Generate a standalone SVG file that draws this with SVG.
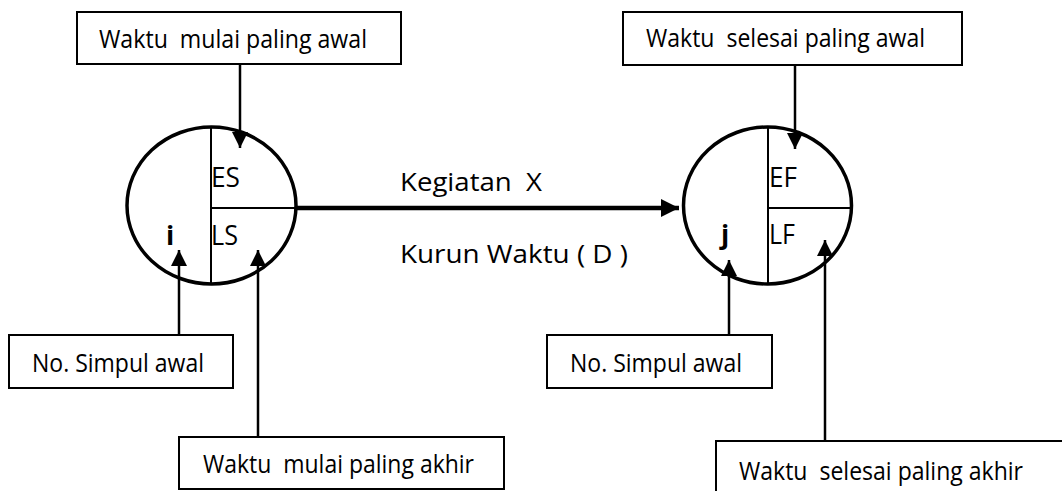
<svg xmlns="http://www.w3.org/2000/svg" width="1062" height="491" viewBox="0 0 1062 491">
  <defs>
    <marker id="head" viewBox="0 0 10 10" refX="10" refY="5" markerWidth="16" markerHeight="16" markerUnits="userSpaceOnUse" orient="auto">
      <path d="M0,0 L10,5 L0,10 Z" fill="#000"/>
    </marker>
    <marker id="headBig" viewBox="0 0 10 10" refX="10" refY="5" markerWidth="18" markerHeight="18" markerUnits="userSpaceOnUse" orient="auto">
      <path d="M0,0 L10,5 L0,10 Z" fill="#000"/>
    </marker>
  </defs>
  <style>
    .box { fill: #fff; stroke: #000; stroke-width: 2; }
    .lbl { font-family: "Open Sans", "Liberation Sans", sans-serif; font-size: 25px; fill: #000; }
    .cell { font-family: "Open Sans", "Liberation Sans", sans-serif; font-size: 27px; fill: #000; }
    .num { font-family: "Open Sans", "Liberation Sans", sans-serif; font-size: 27px; font-weight: bold; fill: #000; }
    .node { fill: #fff; stroke: #000; stroke-width: 3.5; }
    .div { stroke: #000; stroke-width: 2; fill: none; }
    .conn { stroke: #000; stroke-width: 2.5; fill: none; marker-end: url(#head); }
    .flow { stroke: #000; stroke-width: 4.5; fill: none; marker-end: url(#headBig); }
  </style>

  <rect width="1062" height="491" fill="#fff"/>

  <!-- event node i -->
  <g id="node-i">
    <ellipse class="node" cx="211.5" cy="205.5" rx="84.5" ry="78.5"/>
    <line class="div" x1="211" y1="127" x2="211" y2="284"/>
    <line class="div" x1="211" y1="208" x2="296" y2="208"/>
    <text class="cell" x="211" y="187" textLength="29" lengthAdjust="spacingAndGlyphs">ES</text>
    <text class="cell" x="211" y="245" textLength="27" lengthAdjust="spacingAndGlyphs">LS</text>
    <text class="num" x="166" y="245">i</text>
  </g>

  <!-- event node j -->
  <g id="node-j">
    <ellipse class="node" cx="767.5" cy="205.5" rx="84" ry="78.5"/>
    <line class="div" x1="768" y1="127" x2="768" y2="284"/>
    <line class="div" x1="768" y1="208" x2="852" y2="208"/>
    <text class="cell" x="769" y="187" textLength="28" lengthAdjust="spacingAndGlyphs">EF</text>
    <text class="cell" x="769" y="244" textLength="26" lengthAdjust="spacingAndGlyphs">LF</text>
    <text class="num" x="721" y="244">j</text>
  </g>

  <!-- annotation boxes -->
  <g id="box-es">
    <rect class="box" x="77" y="12" width="324" height="52"/>
    <text class="lbl" x="99" y="48" textLength="268" lengthAdjust="spacingAndGlyphs">Waktu&#160; mulai paling awal</text>
  </g>
  <g id="box-ef">
    <rect class="box" x="623" y="12" width="339" height="53"/>
    <text class="lbl" x="646" y="47" textLength="279" lengthAdjust="spacingAndGlyphs">Waktu&#160; selesai paling awal</text>
  </g>
  <g id="box-i">
    <rect class="box" x="9" y="335" width="224" height="53"/>
    <text class="lbl" x="32" y="372" textLength="172" lengthAdjust="spacingAndGlyphs">No. Simpul awal</text>
  </g>
  <g id="box-j">
    <rect class="box" x="547" y="335" width="225" height="53"/>
    <text class="lbl" x="570" y="372" textLength="172" lengthAdjust="spacingAndGlyphs">No. Simpul awal</text>
  </g>
  <g id="box-ls">
    <rect class="box" x="179" y="437" width="325" height="52"/>
    <text class="lbl" x="203" y="473" textLength="271" lengthAdjust="spacingAndGlyphs">Waktu&#160; mulai paling akhir</text>
  </g>
  <g id="box-lf">
    <rect class="box" x="716" y="441" width="360" height="60"/>
    <text class="lbl" x="739" y="480" textLength="284" lengthAdjust="spacingAndGlyphs">Waktu&#160; selesai paling akhir</text>
  </g>

  <!-- activity labels -->
  <g id="activity-labels">
    <text class="lbl" x="400" y="191" textLength="142" lengthAdjust="spacingAndGlyphs">Kegiatan&#160; X</text>
    <text class="lbl" x="400" y="263" textLength="228" lengthAdjust="spacingAndGlyphs">Kurun Waktu ( D )</text>
  </g>

  <!-- connectors -->
  <g id="connectors">
    <line class="flow" x1="297" y1="208" x2="679" y2="208"/>
    <line class="conn" x1="240" y1="64" x2="240" y2="148"/>
    <line class="conn" x1="795" y1="65" x2="795" y2="149"/>
    <line class="conn" x1="179" y1="335" x2="179" y2="250"/>
    <line class="conn" x1="258" y1="437" x2="258" y2="250"/>
    <line class="conn" x1="729" y1="335" x2="729" y2="260"/>
    <line class="conn" x1="825" y1="441" x2="825" y2="240"/>
  </g>
</svg>
